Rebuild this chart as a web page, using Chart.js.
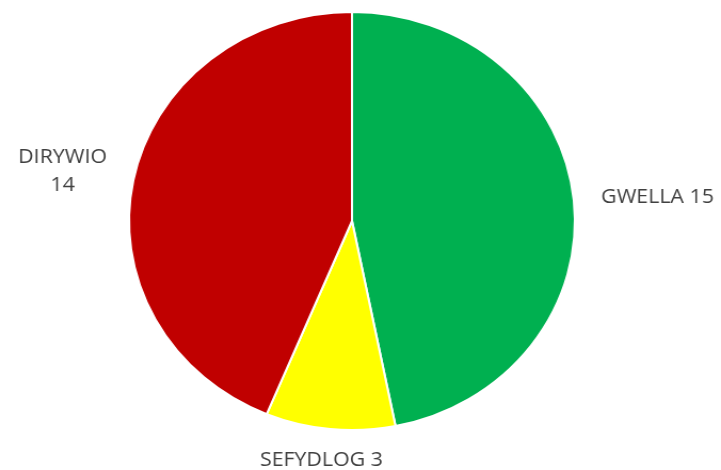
<!DOCTYPE html>
<html>
<head>
<meta charset="utf-8">
<script src="https://cdn.jsdelivr.net/npm/chart.js"></script>
<style>
  html, body { margin: 0; padding: 0; background: #fff; overflow: hidden; }
  /* the original picture is a little stretched sideways */
  #pie { display: block; transform-origin: 0 0; transform: scaleX(1.0666); }
</style>
</head>
<body>
<canvas id="pie" width="676" height="470"></canvas>
<script>
const categories = ['GWELLA', 'SEFYDLOG', 'DIRYWIO'];
const values = [15, 3, 14];
const colours = ['#00B050', '#FFFF00', '#C00000'];

const labelFont = '20px "Open Sans"';
const labelColour = '#404040';

// outside-end labels, wrapped onto two lines when they do not fit
const outsideLabels = {
  id: 'outsideLabels',
  afterDatasetsDraw(chart) {
    const c = chart.ctx;
    const meta = chart.getDatasetMeta(0);
    c.save();
    c.font = labelFont;
    c.fillStyle = labelColour;
    c.textAlign = 'center';
    c.textBaseline = 'middle';
    meta.data.forEach((arc, i) => {
      const p = arc.getProps(['x', 'y', 'startAngle', 'endAngle', 'outerRadius'], true);
      const a = (p.startAngle + p.endAngle) / 2;
      const px = p.x + (p.outerRadius + 26) * Math.cos(a);
      const py = p.y + (p.outerRadius + 21) * Math.sin(a);
      let lines = [categories[i] + ' ' + values[i]];
      let w = c.measureText(lines[0]).width;
      const room = Math.cos(a) < 0 ? px : chart.width - px;
      if (w > room) {
        lines = [categories[i], String(values[i])];
        w = Math.max(...lines.map(t => c.measureText(t).width));
      }
      const lh = 28;
      const h = lines.length * lh - 8;
      const cx = px + Math.cos(a) * w / 2;
      const cy = py + Math.sin(a) * h / 2;
      lines.forEach((t, k) => {
        c.fillText(t, cx, cy - (lines.length - 1) * lh / 2 + k * lh);
      });
    });
    c.restore();
  }
};

new Chart(document.getElementById('pie'), {
  type: 'pie',
  data: {
    labels: categories,
    datasets: [{
      data: values,
      backgroundColor: colours,
      borderColor: '#ffffff',
      borderWidth: 2
    }]
  },
  options: {
    responsive: false,
    animation: false,
    devicePixelRatio: 1,
    layout: { padding: { left: 120, right: 136, top: 11, bottom: 39 } },
    plugins: {
      legend: { display: false },
      tooltip: { enabled: false }
    }
  },
  plugins: [outsideLabels]
});
</script>
</body>
</html>
